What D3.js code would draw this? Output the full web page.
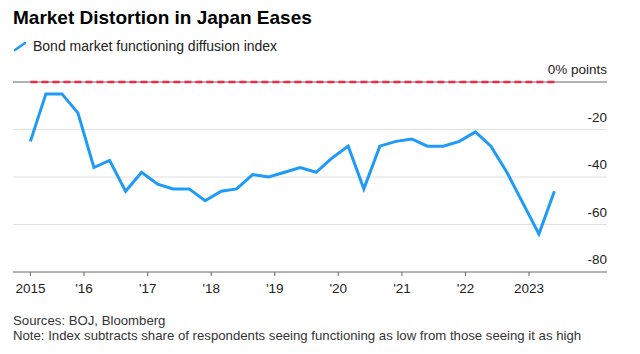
<!DOCTYPE html>
<html lang="en">
<head>
    <meta charset="UTF-8">
    <title>Market Distortion in Japan Eases</title>
    <script src="https://d3js.org/d3.v7.min.js"></script>
    <style>
        body { margin: 0; background: #fff; }
        svg { font-family: "Liberation Sans", Arial, sans-serif; }
        .grid line { stroke: #e0e0e0; stroke-width: 1; }
        .tick-label { font-size: 13.5px; fill: #222; }
        .note { font-size: 13.2px; fill: #333; }
    </style>
</head>
<body>
<svg height="354" width="640"></svg>

<script>
    const svg = d3.select("svg");

    // survey months (Feb, May, Aug, Nov), Feb 2015 .. May 2023
    const years  = [2015, 2016, 2017, 2018, 2019, 2020, 2021, 2022, 2023];
    const months = [1, 4, 7, 10];
    const index  = [-25, -5, -5, -13,
                    -36, -33, -46, -38,
                    -43, -45, -45, -50,
                    -46, -45, -39, -40,
                    -38, -36, -38, -32,
                    -27, -45, -27, -25,
                    -24, -27, -27, -25,
                    -21, -27, -38, -51,
                    -64, -46];
    const yTicks = [0, -20, -40, -60, -80];
    const xLabels = ["2015", "'16", "'17", "'18", "'19", "'20", "'21", "'22", "2023"];

    const dates = [];
    years.forEach(y => months.forEach(m => dates.push(new Date(y, m, 27))));
    const data = index.map((v, i) => ({date: dates[i], value: v}));

    const plot = {left: 13, right: 607, top: 82, bottom: 272};

    const x = d3.scaleTime()
        .domain([new Date(2016, 0, 1), new Date(2023, 0, 1)])
        .range([84, 529]);
    const y = d3.scaleLinear().domain([0, -80]).range([plot.top, plot.bottom]);

    // title + legend
    svg.append("text").attr("x", 13).attr("y", 24)
        .style("font-size", "19px").style("font-weight", "bold").attr("fill", "#000")
        .text("Market Distortion in Japan Eases");
    svg.append("line").attr("x1", 15).attr("y1", 50).attr("x2", 25).attr("y2", 43)
        .attr("stroke", "#1e9bf9").attr("stroke-width", 2.5).attr("stroke-linecap", "round");
    svg.append("text").attr("x", 33).attr("y", 51)
        .style("font-size", "14px").attr("fill", "#222")
        .text("Bond market functioning diffusion index");

    // grid
    svg.append("g").attr("class", "grid")
        .selectAll("line")
        .data(yTicks.filter(d => d !== 0 && d !== -80))
        .join("line")
          .attr("x1", plot.left).attr("x2", plot.right)
          .attr("y1", d => y(d)).attr("y2", d => y(d));

    svg.append("line").attr("x1", plot.left).attr("x2", plot.right)
        .attr("y1", y(0)).attr("y2", y(0))
        .attr("stroke", "#666").attr("stroke-width", 1);

    // y labels above gridlines
    svg.selectAll("text.ylab")
        .data(yTicks)
        .join("text").attr("class", "ylab tick-label")
          .attr("x", plot.right).attr("y", d => y(d) - 8)
          .attr("text-anchor", "end")
          .text(d => d === 0 ? "0% points" : d);

    // zero reference, dashed
    svg.append("line")
        .attr("x1", x(dates[0])).attr("x2", x(dates[index.length - 1]))
        .attr("y1", y(0)).attr("y2", y(0))
        .attr("stroke", "#ee2a47").attr("stroke-width", 2.5)
        .attr("stroke-dasharray", "7,4");

    // bottom axis
    svg.append("line").attr("x1", plot.left).attr("x2", plot.right)
        .attr("y1", plot.bottom).attr("y2", plot.bottom)
        .attr("stroke", "#666").attr("stroke-width", 1);

    const tickDates = [dates[0]].concat(years.slice(1).map(yr => new Date(yr, 0, 1)));
    const xt = svg.append("g").selectAll("g")
        .data(tickDates)
        .join("g").attr("transform", (d) => `translate(${x(d)},0)`);
    xt.append("line").attr("y1", plot.bottom).attr("y2", plot.bottom + 4)
        .attr("stroke", "#666").attr("stroke-width", 1);
    xt.append("text").attr("class", "tick-label")
        .attr("y", plot.bottom + 21).attr("text-anchor", "middle")
        .text((d, i) => xLabels[i]);

    // series
    const line = d3.line().x(d => x(d.date)).y(d => y(d.value));
    svg.append("path").datum(data)
        .attr("d", line)
        .attr("fill", "none")
        .attr("stroke", "#1e9bf9")
        .attr("stroke-width", 3)
        .attr("stroke-linejoin", "miter");

    // footer
    svg.append("text").attr("class", "note").attr("x", 13).attr("y", 325)
        .text("Sources: BOJ, Bloomberg");
    svg.append("text").attr("class", "note").attr("x", 13).attr("y", 340)
        .text("Note: Index subtracts share of respondents seeing functioning as low from those seeing it as high");
</script>

</body>
</html>
